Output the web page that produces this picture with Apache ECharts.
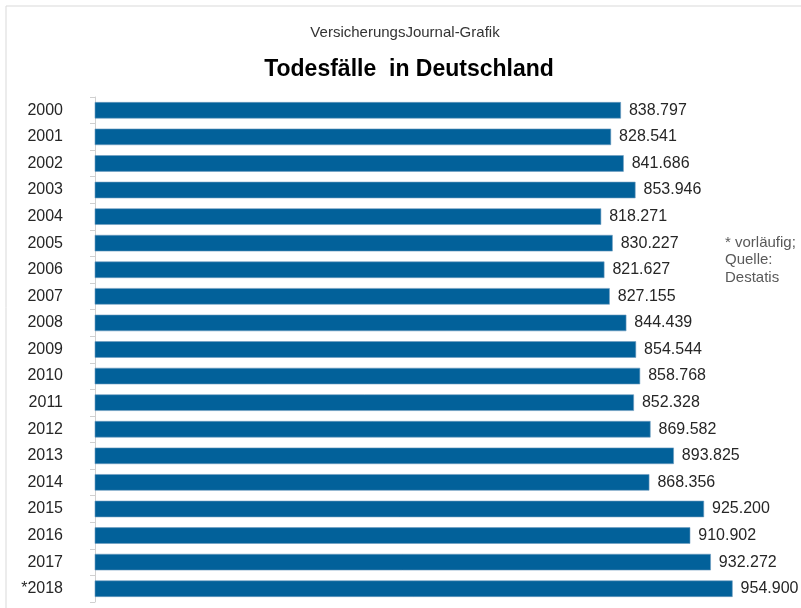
<!DOCTYPE html>
<html>
<head>
<meta charset="utf-8">
<script src="https://cdn.jsdelivr.net/npm/echarts@6/dist/echarts.min.js"></script>
<style>
html, body { margin: 0; padding: 0; background: #fff; }
#chart { width: 801px; height: 608px; }
</style>
</head>
<body>
<div id="chart"></div>
<script>
var years = ['2000', '2001', '2002', '2003', '2004', '2005', '2006', '2007', '2008', '2009',
    '2010', '2011', '2012', '2013', '2014', '2015', '2016', '2017', '*2018'];
var deaths = [838797, 828541, 841686, 853946, 818271, 830227, 821627, 827155, 844439, 854544,
    858768, 852328, 869582, 893825, 868356, 925200, 910902, 932272, 954900];
var footnote = ['* vorläufig;', 'Quelle:', 'Destatis'];

function fmt(v) {
    // 838797 -> 838.797
    var s = String(v);
    return s.replace(/\B(?=(\d{3})+(?!\d))/g, '.');
}

window.onload = function () {
    var myChart = echarts.init(document.getElementById('chart'));
    var font = '"Liberation Sans", Arial, sans-serif';

    option = {
        backgroundColor: '#fff',
        animation: false,
        textStyle: { fontFamily: font },
        title: [{
            text: 'VersicherungsJournal-Grafik',
            left: 400,
            textAlign: 'center',
            top: 20,
            textStyle: { fontSize: 15, fontWeight: 'normal', color: '#333', fontFamily: font }
        }, {
            text: 'Todesfälle  in Deutschland',
            left: 404,
            textAlign: 'center',
            top: 53,
            textStyle: { fontSize: 23, fontWeight: 'bold', color: '#000', fontFamily: font }
        }],
        graphic: [{
            type: 'rect',
            shape: { x: 6, y: 6, width: 830, height: 640 },
            style: { fill: 'none', stroke: '#d9d9d9', lineWidth: 1 },
            silent: true
        }, {
            type: 'text',
            left: 725,
            top: 234,
            style: {
                text: footnote.join('\n'),
                fill: '#595959',
                font: '15px ' + font,
                lineHeight: 17.5
            }
        }],
        grid: {
            left: 95,
            right: 25,
            top: 97,
            bottom: 6,
            containLabel: false
        },
        xAxis: {
            type: 'value',
            min: 292000,
            max: 1000000,
            show: false
        },
        yAxis: {
            type: 'category',
            data: years,
            inverse: true,
            axisLine: { show: true, lineStyle: { color: '#d0d0d0', width: 1 } },
            axisTick: { show: true, length: 5, lineStyle: { color: '#d0d0d0' } },
            axisLabel: {
                margin: 32,
                fontSize: 16,
                color: '#262626',
                fontFamily: font
            },
            splitLine: { show: false }
        },
        series: [{
            name: 'Todesfälle',
            type: 'bar',
            data: deaths,
            barCategoryGap: '38%',
            itemStyle: {
                color: '#02619a',
                borderColor: '#6f9cc0',
                borderWidth: 0.6
            },
            label: {
                show: true,
                position: 'right',
                distance: 8,
                fontSize: 16,
                color: '#262626',
                fontFamily: font,
                formatter: function (p) {
                    return fmt(p.value);
                }
            }
        }]
    };
    myChart.setOption(option);
};
</script>
</body>
</html>
